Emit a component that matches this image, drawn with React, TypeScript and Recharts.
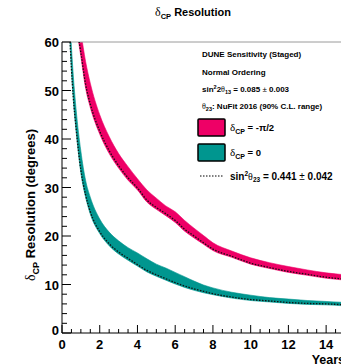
import React from 'react';
import { ComposedChart, Area, Line, XAxis, YAxis, ReferenceLine } from 'recharts';

// delta_CP = -pi/2 band (pink)
const pinkYears = [0.8, 1, 1.25, 1.5, 2, 2.5, 3, 3.5, 4, 4.5, 5, 5.5, 6, 6.5, 7, 7.5, 8, 9, 10, 11, 12, 13, 14, 15];
const pinkLow = [62, 57, 50.5, 46.5, 41, 37, 34, 31.5, 29.5, 27, 25.5, 24.2, 22.8, 21, 19.6, 18.3, 17.0, 15.6, 14.2, 13.3, 12.5, 11.9, 11.3, 10.9];
const pinkHigh = [67, 62, 56, 51.5, 45, 40.5, 37, 34.3, 31.8, 29.5, 27.8, 26.2, 25, 23.2, 21.6, 20.1, 18.6, 16.9, 15.5, 14.5, 13.7, 13, 12.4, 12];
const pinkCentral = [62.5, 57.8, 51.3, 47.2, 41.6, 37.6, 34.5, 32, 29.9, 27.4, 25.9, 24.6, 23.2, 21.4, 20, 18.6, 17.3, 15.8, 14.4, 13.5, 12.7, 12.1, 11.5, 11.1];

// delta_CP = 0 band (teal)
const tealYears = [0.4, 0.5, 0.6, 0.75, 1, 1.25, 1.5, 2, 2.5, 3, 3.5, 4, 4.5, 5, 5.5, 6, 6.5, 7, 7.5, 8, 9, 10, 11, 12, 13, 14, 15];
const tealLow = [62, 54, 48, 41.5, 33, 28, 24.5, 20.5, 18, 16.3, 15, 13.8, 12.6, 11.7, 10.9, 10.1, 9.4, 8.8, 8.3, 7.9, 7.2, 6.7, 6.4, 6.1, 5.9, 5.8, 5.6];
const tealHigh = [66, 59, 53, 46, 37.5, 31.5, 28, 23.5, 20.8, 19, 17.6, 16.5, 15.3, 14.2, 13.4, 12.5, 11.6, 10.7, 9.9, 9.3, 8.4, 7.8, 7.3, 7.0, 6.7, 6.5, 6.3];
const tealCentral = [62.5, 54.6, 48.6, 42.1, 33.6, 28.5, 25, 20.9, 18.4, 16.7, 15.4, 14.1, 12.9, 12.0, 11.2, 10.4, 9.7, 9.1, 8.6, 8.1, 7.4, 6.9, 6.6, 6.3, 6.1, 6.0, 5.8];

const xLabels = [0, 2, 4, 6, 8, 10, 12, 14];
const yLabels = [0, 10, 20, 30, 40, 50, 60];
const xTicks = Array.from({ length: 31 }, (_, i) => i * 0.5);
const yTicks = Array.from({ length: 31 }, (_, i) => i * 2);

const PINK = '#ee0066';
const TEAL = '#00968f';
const SANS = 'Liberation Sans, Arial, sans-serif';
const SERIF = 'Liberation Serif, Times New Roman, serif';

const pinkData = pinkYears.map((year, i) => ({ year, band: [pinkLow[i], pinkHigh[i]], mid: pinkCentral[i] }));
const tealData = tealYears.map((year, i) => ({ year, band: [tealLow[i], tealHigh[i]], mid: tealCentral[i] }));

const XTick = (props: any) => {
  const { x, y, payload } = props;
  const major = xLabels.includes(payload.value);
  return (
    <g>
      <line x1={x} x2={x} y1={y} y2={y - (major ? 8 : 4)} stroke="#000" strokeWidth={1} />
      {major && (
        <text x={x} y={y + 16} textAnchor="middle" fontFamily={SANS} fontWeight="bold" fontSize={13} fill="#000">
          {payload.value}
        </text>
      )}
    </g>
  );
};

const YTick = (props: any) => {
  const { x, y, payload } = props;
  const major = yLabels.includes(payload.value);
  return (
    <g>
      <line x1={x} x2={x + (major ? 9 : 5)} y1={y} y2={y} stroke="#000" strokeWidth={1} />
      {major && (
        <text x={x - 3} y={y + (payload.value === 0 ? 2 : 5)} textAnchor="end" fontFamily={SANS} fontWeight="bold" fontSize={13} fill="#000">
          {payload.value}
        </text>
      )}
    </g>
  );
};

const Overlay = () => (
  <svg width={341} height={364} style={{ position: 'absolute', left: 0, top: 0, pointerEvents: 'none' }}>
    {/* title */}
    <text x={155} y={16} fill="#000">
      <tspan fontFamily={SERIF} fontSize={12}>δ</tspan>
      <tspan fontFamily={SANS} fontWeight="bold" fontSize={7.5} dy={3}>CP</tspan>
      <tspan fontFamily={SANS} fontWeight="bold" fontSize={11} dy={-3}> Resolution</tspan>
    </text>

    {/* y axis title */}
    <text transform="translate(35,205) rotate(-90)" textAnchor="middle" fill="#000">
      <tspan fontFamily={SERIF} fontSize={14}>δ</tspan>
      <tspan fontFamily={SANS} fontWeight="bold" fontSize={9} dy={4}>CP</tspan>
      <tspan fontFamily={SANS} fontWeight="bold" fontSize={13} dy={-4}> Resolution (degrees)</tspan>
    </text>

    {/* x axis title */}
    <text x={345} y={364} textAnchor="end" fontFamily={SANS} fontWeight="bold" fontSize={12.5} fill="#000">Years</text>

    {/* legend */}
    <g fontFamily={SANS} fontWeight="bold" fontSize={8} fill="#000">
      <text x={202} y={57}>DUNE Sensitivity (Staged)</text>
      <text x={202} y={75}>Normal Ordering</text>
      <text x={202} y={92}>
        sin<tspan fontSize={5.5} dy={-3}>2</tspan>
        <tspan dy={3}>2</tspan>
        <tspan fontFamily={SERIF} fontWeight="normal">θ</tspan>
        <tspan fontSize={5.5} dy={2}>13</tspan>
        <tspan dy={-2}> = 0.085 </tspan>
        <tspan fontWeight="normal">±</tspan>
        <tspan> 0.003</tspan>
      </text>
      <text x={202} y={109}>
        <tspan fontFamily={SERIF} fontWeight="normal">θ</tspan>
        <tspan fontSize={5.5} dy={2}>23</tspan>
        <tspan dy={-2}>: NuFit 2016 (90% C.L. range)</tspan>
      </text>
    </g>
    <rect x={198} y={119} width={27} height={17} fill={PINK} stroke="#000" strokeWidth={1.5} rx={1} />
    <rect x={198} y={144} width={27} height={17} fill={TEAL} stroke="#000" strokeWidth={1.5} rx={1} />
    <text x={230} y={131} fill="#000">
      <tspan fontFamily={SERIF} fontSize={11}>δ</tspan>
      <tspan fontFamily={SANS} fontWeight="bold" fontSize={7} dy={3}>CP</tspan>
      <tspan fontFamily={SANS} fontWeight="bold" fontSize={9.5} dy={-3}> = -π/2</tspan>
    </text>
    <text x={230} y={156} fill="#000">
      <tspan fontFamily={SERIF} fontSize={11}>δ</tspan>
      <tspan fontFamily={SANS} fontWeight="bold" fontSize={7} dy={3}>CP</tspan>
      <tspan fontFamily={SANS} fontWeight="bold" fontSize={9.5} dy={-3}> = 0</tspan>
    </text>
    <line x1={200} x2={223} y1={176} y2={176} stroke="#000" strokeWidth={1} strokeDasharray="1.5 1.5" />
    <text x={230} y={180} fontFamily={SANS} fontWeight="bold" fontSize={10} fill="#000">
      sin<tspan fontSize={6.5} dy={-4}>2</tspan>
      <tspan fontFamily={SERIF} fontWeight="normal" dy={4}>θ</tspan>
      <tspan fontSize={6.5} dy={2}>23</tspan>
      <tspan dy={-2}> = 0.441 </tspan>
      <tspan fontWeight="normal">±</tspan>
      <tspan> 0.042</tspan>
    </text>
  </svg>
);

export default function App() {
  return (
    <div style={{ position: 'fixed', left: 0, top: 0, width: 341, height: 364, overflow: 'hidden', background: '#fff' }}>
      <ComposedChart width={350} height={364} margin={{ top: 42, right: 5, bottom: 0, left: 0 }}>
        <XAxis
          dataKey="year"
          type="number"
          domain={[0, 15]}
          allowDataOverflow
          ticks={xTicks}
          interval={0}
          tickLine={false}
          tickSize={0}
          tickMargin={0}
          tick={<XTick />}
          axisLine={{ stroke: '#000', strokeWidth: 1 }}
          height={31}
        />
        <YAxis
          type="number"
          domain={[0, 60]}
          allowDataOverflow
          ticks={yTicks}
          interval={0}
          tickLine={false}
          tickSize={0}
          tickMargin={0}
          tick={<YTick />}
          axisLine={{ stroke: '#000', strokeWidth: 1 }}
          width={62}
        />
        <ReferenceLine y={60} stroke="#9a9a9a" strokeWidth={1} />
        <Area data={pinkData} dataKey="band" type="monotone" fill={PINK} fillOpacity={1} stroke={PINK} strokeWidth={0.6} isAnimationActive={false} />
        <Area data={tealData} dataKey="band" type="monotone" fill={TEAL} fillOpacity={1} stroke={TEAL} strokeWidth={0.6} isAnimationActive={false} />
        <Line data={pinkData} dataKey="mid" type="monotone" stroke="#111" strokeWidth={1.3} strokeDasharray="1.5 1.5" dot={false} isAnimationActive={false} />
        <Line data={tealData} dataKey="mid" type="monotone" stroke="#111" strokeWidth={1.3} strokeDasharray="1.5 1.5" dot={false} isAnimationActive={false} />
      </ComposedChart>
      <Overlay />
    </div>
  );
}
